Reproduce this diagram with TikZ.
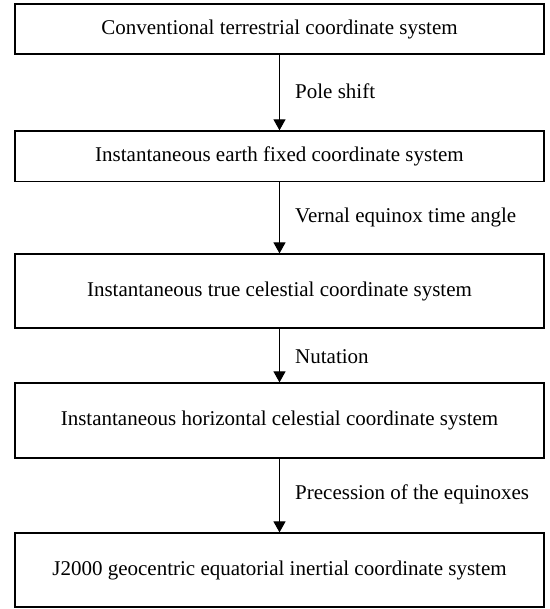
\documentclass[tikz,border=0pt]{standalone}
\usepackage{fontspec}
\setmainfont{Liberation Serif}
\usetikzlibrary{arrows.meta}
\begin{document}
\begin{tikzpicture}[x=1pt,y=1pt,
  box/.style={draw,line width=1.2pt,minimum width=529pt,inner sep=0pt,font=\fontsize{21}{25}\selectfont},
  lbl/.style={anchor=west,inner sep=0pt,font=\fontsize{21}{25}\selectfont},
  conn/.style={line width=1.2pt,-{Triangle[width=12pt,length=11pt]}}]
\useasboundingbox (0,0) rectangle (549,609);
\node[box,minimum height=50pt] (b1) at (279.5,609-29) {Conventional terrestrial coordinate system};
\node[box,minimum height=50.5pt] (b2) at (279.5,609-156.2) {Instantaneous earth fixed coordinate system};
\node[box,minimum height=74pt] (b3) at (279.5,609-291) {Instantaneous true celestial coordinate system};
\node[box,minimum height=75pt] (b4) at (279.5,609-420.5) {Instantaneous horizontal celestial coordinate system};
\node[box,minimum height=74pt] (b5) at (279.5,609-570) {J2000 geocentric equatorial inertial coordinate system};
\draw[conn] (b1) -- (b2);
\draw[conn] (b2) -- (b3);
\draw[conn] (b3) -- (b4);
\draw[conn] (b4) -- (b5);
\node[lbl] (l1) at (295,609-91) {Pole shift};
\node[lbl] (l2) at (295,609-217) {Vernal equinox time angle};
\node[lbl] (l3) at (295,609-357) {Nutation};
\node[lbl] (l4) at (295,609-494) {Precession of the equinoxes};
\end{tikzpicture}
\end{document}
